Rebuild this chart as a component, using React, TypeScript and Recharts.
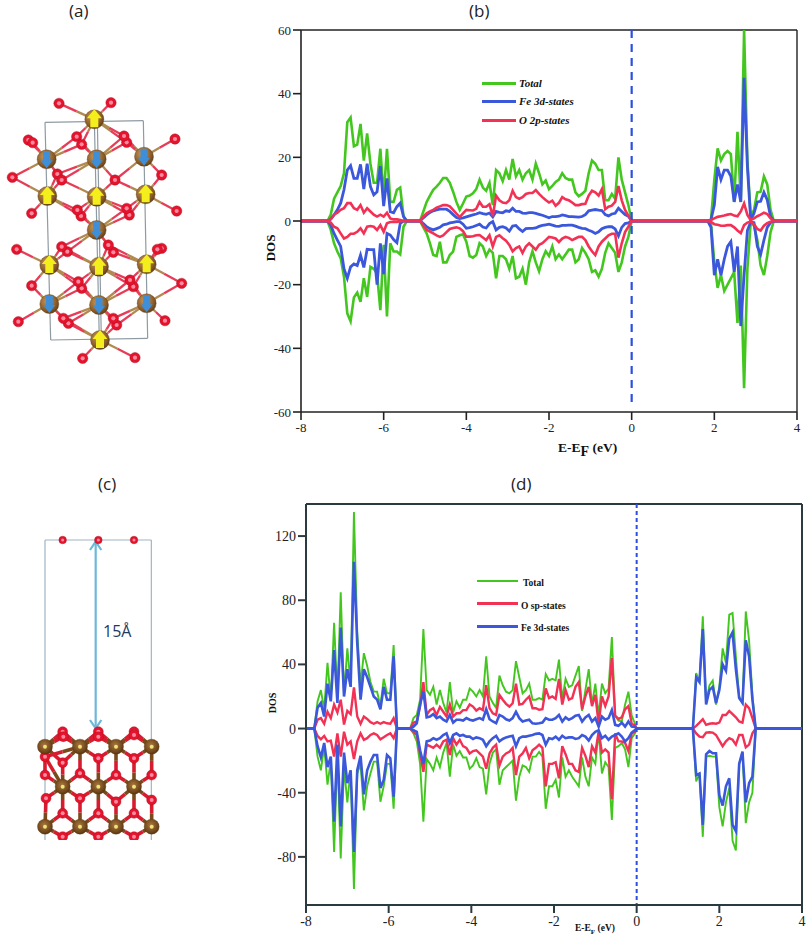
import React from 'react';
import { LineChart, Line, XAxis, YAxis, ReferenceLine, ScatterChart, Scatter } from 'recharts';

const GREEN = '#43c71f';
const BLUE = '#3b57dc';
const RED = '#f23155';

// ---------- panel (b) ----------
const bEnergy = [-8,
  -7.36,-7.28,-7.2,-7.12,-7.04,-6.96,-6.88,-6.8,-6.72,-6.64,-6.56,-6.48,-6.4,-6.32,-6.24,-6.16,-6.08,-6,-5.92,-5.84,-5.76,-5.68,-5.6,-5.52,-5.44,
  -5.12,
  -5.04,-4.96,-4.88,-4.8,-4.72,-4.64,-4.56,-4.48,-4.4,-4.32,
  -4.24,-4.16,-4.08,-4,-3.92,-3.84,-3.76,-3.68,-3.6,-3.52,
  -3.44,-3.36,-3.28,-3.2,-3.12,-3.04,-2.96,-2.88,-2.8,-2.72,
  -2.64,-2.56,-2.48,-2.4,-2.32,-2.24,-2.16,-2.08,-2,-1.92,
  -1.84,-1.76,-1.68,-1.6,-1.52,-1.44,-1.36,-1.28,-1.2,-1.12,
  -1.04,-0.96,-0.88,-0.8,-0.72,-0.64,-0.56,-0.48,-0.4,-0.32,
  -0.24,-0.16,-0.08,0,
  1.84,1.92,2,2.08,2.16,2.24,2.32,2.4,2.48,2.56,2.64,2.72,2.8,2.88,2.96,3.04,3.12,3.2,3.28,3.36,3.44,
  4];
const bTotalUp = [0,
  0,2,7,9,11,15,31,32.5,23.5,24,30.5,19,27.5,18,12,12,22.7,7.7,22.7,6,6,9.8,10.5,1.5,0,
  0,
  3,6,8,9.8,10.8,12,13.5,13.5,12,9.2,
  6,3.5,5.5,7.7,8,8.7,10,13,10.5,9.5,
  12,5,16,15,12.5,16,13,19.5,14,16,
  13,15,16,13,18,15,11.5,12.7,10,11,
  12.3,13,15,13.5,13,13,9,7.8,8.5,9.5,
  15,19,18,16,16,6.5,6.5,8.5,7,20,
  13,9,5,0,
  0,0.5,13,22.8,19,21,22,21,6,28,6,60,19,1.5,3.5,9,9.2,14,11.5,3.5,0,
  0];
const bTotalDn = [0,
  0,-2.8,-7,-9.6,-11.7,-17.5,-29,-31.5,-24,-22.5,-25.4,-18,-23.8,-14.4,-15,-16.5,-28,-7.5,-30,-7,-9.6,-9.6,-10.5,-1.8,0,
  0,
  -2,-3.9,-7,-10.7,-11,-6.5,-13,-13,-10.7,-9.6,
  -5,-4.5,-4.2,-6.5,-11,-11.5,-10.7,-7,-8,-11,
  -9,-10,-18,-11,-11,-12,-15,-11,-18,-17.5,
  -15,-20,-13,-9.5,-13,-15.8,-12,-9.5,-11,-8,
  -12,-10.5,-12,-10.5,-9,-9,-13,-12,-8.5,-10,
  -12,-16,-15.5,-17.5,-15,-10,-7,-8.5,-10,-16,
  -13,-8,-5,0,
  0,-1,-13,-21,-17,-22,-20,-18,-16,-32,-14,-52.5,-15,-0.4,-1.5,-6,-14,-17,-11,-3.5,0,
  0];
const bFeUp = [0,
  0,0.6,1.9,3.5,5.6,9.8,16,17.4,13.4,13.4,17.8,10,18,10.8,8.2,9.2,17.3,4.7,13.4,2.9,2.6,4.5,5.6,1.4,0,
  0,
  1,1.9,2.7,3.2,3.5,3.7,3.7,3.7,3,2,
  1.1,0.8,1,1.3,1.6,1.9,2.2,2.6,2.3,2.1,
  2.5,1.3,3,2.7,2.6,3.2,3,4,3,3,
  2.5,2.4,2.6,2.6,2.4,2.1,1.8,1.4,1,1.4,
  1.4,1.5,1.9,1.7,1.4,1.4,1.3,1.2,1.4,2,
  3.2,3.4,3.6,3.4,3.3,2,1.6,2.2,2.4,4,
  3,2,1.5,0,
  0,0.5,5,17,13,16,16,14,6,11.5,6,45,17,0.3,2.4,6,6.2,9,6.6,1.4,0,
  0];
const bFeDn = [0,
  0,-1.3,-3.9,-6,-8,-15,-18,-14.4,-13.5,-14,-10.7,-14.6,-8.9,-9,-9,-20,-7,-16.7,-3.9,-4.4,-5.8,-6.8,-0.7,0,0,
  0,
  -0.8,-1.8,-2.4,-2.8,-2.4,-2,-1.2,-1,-0.6,-0.4,
  -0.2,-0.2,-1,-2.3,-2.1,-1.8,-1.4,-1,-1.9,-2.2,
  -0.8,-0.2,-2.8,-2,-1.8,-2.2,-3.2,-1.6,-1.4,-2.5,
  -3.3,-2.4,-2.3,-2.3,-2.2,-1.7,-1.4,-1.2,-1,-1.3,
  -1.6,-1.7,-1.4,-1.4,-1.3,-1.3,-1.6,-2,-2.3,-2.4,
  -2.9,-3.3,-3.9,-3.4,-2.4,-2,-1.8,-1.8,-2.5,-4.7,
  -2,-0.8,-0.6,0,
  0,-2,-17,-12,-17,-12,-8,-6.5,-16,-8,-33,-17,-3,-0.3,-0.5,-8,-10.5,-6,-2,-0.5,0,
  0];
const bOUp = [0,
  0,0.6,2,2.6,3.5,4,5.6,5.6,4,3.5,5,2.6,4,3,2,1.4,2,1.4,2.6,0.8,0.5,0.5,0.3,0,0,
  0,
  1.4,2.4,3,3.5,4.2,4.6,5,5,4.6,3.5,
  2.3,1.2,2.4,3.5,3.4,3.3,3.8,6,4.5,4.5,
  5.3,1.5,8,6.5,5.8,5.6,6.5,9.5,7.5,7,
  7.5,8.5,8.8,8.8,9.7,8.5,7.5,6.6,5.8,6.4,
  4.8,5.7,7.5,6.8,6.5,5.8,5,5,5.3,5.4,
  8,9.5,9,8,10,3.7,4.5,4.8,6,11,
  6.5,3.5,1.6,0,
  0,0.3,0.8,1.3,1.5,1.7,2,2.2,1.7,1.5,3,5.5,1.9,0.3,0.8,1.5,2,2.6,2.2,0.8,0,
  0];
const bODn = [0,
  0,-0.5,-1.8,-2.3,-3.9,-5.5,-5,-4,-4,-3.4,-2.3,-3.9,-1.8,-1.6,-1.8,-2.8,-1.3,-3.4,-0.7,-0.3,-0.3,-0.3,-0.1,0,0,
  0,
  -1.4,-2.8,-3.3,-3.9,-4.5,-5,-4.5,-3.5,-2.5,-2.2,
  -2,-2.3,-3.2,-4.9,-4.9,-4.8,-4.5,-4.4,-5.2,-6,
  -4.5,-8,-5,-4.5,-5.4,-6.2,-7.5,-9.5,-8.5,-8,
  -10,-8,-7,-8,-9,-7.5,-7,-6,-5,-5.2,
  -5.5,-6.6,-5.5,-5,-5.3,-6,-5.5,-5,-5,-6,
  -8,-9.5,-10.7,-8,-6.5,-5.5,-4.5,-4,-4,-11.5,
  -7,-3.5,-1.8,0,
  0,-0.3,-1,-1.2,-1.5,-1.5,-1.3,-1.3,-2,-3,-3.8,-1.3,-0.5,-0.2,-1,-2.5,-3,-1.5,-0.7,-0.2,0,
  0];

// ---------- panel (d) ----------
const dEnergy = [-8,
  -7.8,-7.72,-7.64,-7.56,-7.48,-7.4,-7.32,-7.24,-7.16,-7.08,-7,-6.92,-6.84,-6.76,-6.68,-6.6,-6.52,-6.44,-6.36,-6.28,-6.2,-6.12,-6.04,-5.96,-5.88,-5.8,
  -5.48,-5.4,-5.32,-5.24,-5.16,-5.08,-5,-4.92,-4.84,-4.76,
  -4.68,-4.6,-4.52,-4.44,-4.36,-4.28,-4.2,-4.12,-4.04,-3.96,
  -3.88,-3.8,-3.72,-3.64,-3.56,-3.48,-3.4,-3.32,-3.24,-3.16,
  -3.08,-3,-2.92,-2.84,-2.76,-2.68,-2.6,-2.52,-2.44,-2.36,
  -2.28,-2.2,-2.12,
  -2.04,-1.96,-1.88,-1.8,-1.72,-1.64,-1.56,-1.48,-1.4,-1.32,
  -1.24,-1.16,-1.08,-1,-0.92,-0.84,-0.76,-0.68,-0.6,-0.52,
  -0.44,-0.36,-0.28,-0.2,-0.12,-0.04,
  0,
  1.36,1.44,1.52,1.6,1.68,1.76,1.84,1.92,2,2.08,2.16,2.24,2.32,2.4,2.48,2.56,2.64,2.72,2.8,2.88,
  4];
const dTotalUp = [0,
  0,17,24,12,41,18,66,20,85,21,50,28,135,60,27,47,39,29,23,23,14,31,22,22,52,0,
  0,6.5,8.5,18,62,24,21,26,15,24,
  16,10,29,10,17,13,18,18,25,23,
  20,24,20,45,20,16,13,33,27,23,
  22,24,42,32,22,24,28,18,18,19,
  18,34,30,
  31,30,43,18,31,26,27,33,39,11,
  24,37,15,28,8,28,22,25,57,8,
  5,4.5,15,23,8,3,
  0,
  0,34.6,29,70,16,27,30,15,26,50,41,71,72,45,20,16,73,55,21,0,
  0];
const dTotalDn = [0,
  0,-17.5,-26,-11,-35,-20,-77,-15,-81,-24,-46,-26,-100,-28,-22,-51,-36,-28,-20.6,-20.6,-45.6,-36,-22,-22,-50,0,
  0,-3,-8,-22,-58,-19,-22,-26,-18,-24,
  -15,-9,-30,-10,-17,-14,-18,-18,-25,-23,
  -18.5,-24,-25,-41,-22,-15,-13,-35,-26,-24,
  -22,-20,-45,-30,-23,-24,-27,-17.5,-17.5,-14.5,
  -17.5,-50,-36,
  -36,-32,-43,-18,-30,-26,-30,-33,-36,-18,
  -30,-36,-18,-22,-2,-28,-21,-24,-57,-12,
  -11,-9,-13,-24,-6,-3,
  0,
  0,-33,-28,-67.5,-17.5,-17,-17.5,-17.5,-49,-61,-46,-37,-70,-76,-22,-15,-59,-46,-40,0,
  0];
const dOUp = [0,
  0,5.5,6.5,3,10.5,6.5,15,10,18,2.5,11,9,25.6,7.5,3,7.5,6,4,3,4,3,4,3.3,3,6.5,0,
  0,3.7,4.4,14,29,8.5,11.5,12.7,8.5,13.5,
  10.5,7.5,15,7.5,9.5,9.5,11.5,11.5,15,13.7,
  11.2,12.7,11.5,27,12.7,9.5,8.5,21,18,15.4,
  13.7,15.8,28,15,15.4,18,20,12.7,12.7,11.7,
  12,25,19,
  20,18.5,31,15,24,18,19,26,29,12,
  20,26,14,21,3,20,14,20,44,8,
  6,7,12,14,3,2,
  0,
  0,1.7,3.7,5.8,2.3,3,3.3,3,3.7,8.5,8.5,11,9,7,4.4,3.7,15,12.7,6.5,0,
  0];
const dODn = [0,
  0,-4.6,-6.7,-4.6,-8,-7.5,-17.5,-3,-17.5,-2,-10,-8,-19,-8,-3,-7,-6,-4,-3,-4,-6.7,-5.4,-4,-3,-6,0,
  0,-2,-4,-15.5,-27,-10,-11,-12,-10,-12,
  -8,-7,-16.5,-6,-10,-7,-11,-12,-15.5,-14,
  -13.5,-15.5,-17.5,-25,-15.5,-12,-10,-23,-17.5,-15.5,
  -14.5,-12,-29,-17.5,-15.5,-12,-18.5,-13.5,-12,-10,
  -12,-36,-22,
  -22,-21,-31,-11,-16,-22,-22,-26,-27,-12,
  -17,-24,-11,-15,-2,-15,-13,-15,-44,-3,
  -8,-8,-9,-14,-3,-2,
  0,
  0,-3,-5,-5.4,-2.5,-2.3,-2.5,-4,-7.5,-11,-8,-6,-7,-10,-4,-4,-11.7,-10,-3,0,
  0];
const dFeUp = [0,
  0,13,16,7.5,28,17,49,16,63,20,37,26,104,53,18,37,32,26,20,18,12,26,18,18,45,0,
  0,1.2,3.3,15,23,7,7.5,9,6.5,7.5,
  5.5,4.4,8.5,3.7,5.5,5.5,5,6.5,5.5,5,
  5.8,6.5,5.5,12,5.8,4.4,3.3,8.5,7.5,5.8,
  5,6.5,10.5,6.5,4.4,5,5.5,3.3,3,3.3,
  3.7,6.5,5.5,
  5.5,6.5,8.5,4.4,7,5.5,6.5,8,8.5,4.4,
  7,8.5,4.4,6.5,1.2,7.5,5.5,6.5,11.5,2.3,
  1.7,3.7,1.2,4.4,1.2,1,
  0,
  0,32,29,62,15,24,26,16,24,40,36,56,60,37,19,16,55,45,18,0,
  0];
const dFeDn = [0,
  0,-11,-18,-9,-24,-17.5,-58,-10,-61,-15,-34,-26,-77,-26,-17,-41,-26,-20.6,-16.5,-16.5,-37,-32,-16.5,-18.5,-42.5,0,
  0,-1,-2,-13.5,-22,-8,-7.5,-6,-7,-6,
  -4,-3,-9,-4,-3,-4.5,-4,-5,-5,-6.5,
  -5.5,-6,-7,-11,-8,-6,-4.5,-8,-6.5,-5.5,
  -5,-4.5,-11,-6,-5,-5,-4.5,-4,-3.3,-3,
  -4,-10,-6,
  -6.5,-5,-7,-4.5,-6,-5.5,-5.5,-6.5,-6,-4,
  -5,-7.5,-4,-2,-1,-6,-4.5,-7,-5,-4,
  -3,-5,-8,-6,-2.5,-1,
  0,
  0,-29,-28,-60,-16,-14,-15.4,-15.4,-41.5,-48,-36,-31,-60,-64,-22,-14.4,-46,-34,-30,0,
  0];

const xTicks = [-8, -6, -4, -2, 0, 2, 4];
const bYTicks = [-60, -40, -20, 0, 20, 40, 60];
const dYTicks = [-80, -40, 0, 40, 80, 120];
const bLegend = [['Total', GREEN], ['Fe 3d-states', BLUE], ['O 2p-states', RED]];
const dLegend = [['Total', GREEN], ['O sp-states', RED], ['Fe 3d-states', BLUE]];

// ---------- panel (a) structure, picture coordinates ----------
const aSpinUp = [[283,358],[142,588],[290,590],[437,583],[148,795],[297,800],[440,793],[300,1020]];
const aSpinDown = [[140,478],[290,478],[432,470],[290,690],[148,912],[297,915],[440,910]];
const aOxygen = [[177,310],[333,308],[85,420],[98,428],[230,410],[245,433],[380,427],[372,408],[525,417],[37,532],[172,522],[185,540],[345,540],[485,525],[95,640],[243,648],[232,630],[388,645],[380,625],[530,633],[50,748],[202,755],[185,740],[340,757],[325,735],[485,745],[472,748],[95,857],[245,865],[235,845],[400,860],[390,840],[545,850],[55,965],[205,970],[190,955],[350,975],[340,955],[495,962],[248,1075],[405,1073]];
const aBox = [[[135,367],[430,362]],[[430,362],[443,1015]],[[443,1015],[152,1020]],[[152,1020],[135,367]],[[283,360],[298,1020]],[[292,360],[304,1020]]];

// ---------- panel (c) structure, picture coordinates ----------
const cIron = [[45,830],[150,830],[258,830],[365,830],[98,950],[205,950],[312,950],[45,1070],[150,1070],[258,1070],[365,1070]];
const cOxygen = [[98,785],[205,785],[312,785],[100,800],[205,800],[312,795],[45,860],[98,878],[205,865],[312,865],[45,915],[150,910],[258,915],[365,915],[48,985],[150,985],[258,995],[365,990],[98,1030],[205,1030],[312,1030],[98,1100],[205,1100],[312,1100]];
const cTopOxygen = [[98,210],[205,210],[312,210]];
const cBox = [[[45,210],[364,210]],[[364,210],[364,1110]],[[45,210],[45,1110]]];
const cArrow = [[[197,218],[197,772]],[[197,215],[180,240]],[[197,215],[214,240]],[[197,775],[180,750]],[[197,775],[214,750]]];

const pts = (a: number[][]) => a.map(([x, y]) => ({ x, y }));

function bonds(metal: number[][], ox: number[][], radius: number) {
  const out: { a: number[]; m: number[]; b: number[] }[] = [];
  metal.forEach((m) => ox.forEach((o) => {
    if (Math.hypot(m[0] - o[0], m[1] - o[1]) < radius) {
      out.push({ a: m, m: [(m[0] + o[0]) / 2, (m[1] + o[1]) / 2], b: o });
    }
  }));
  return out;
}

function DosChart(p: any) {
  const data = p.energy.map((e: number, i: number) => ({
    e, tu: p.tu[i], td: p.td[i], fu: p.fu[i], fd: p.fd[i], ou: p.ou[i], od: p.od[i],
  }));
  const ln = (k: string, c: string, w: number) => (
    <Line key={k} dataKey={k} stroke={c} strokeWidth={w} dot={false} isAnimationActive={false} type="linear" strokeLinejoin="miter" />
  );
  const tick = { fontFamily: 'Liberation Serif', fontSize: p.tickSize, fill: '#222' };
  return (
    <LineChart width={p.width} height={p.height} data={data} margin={p.margin}>
      <XAxis dataKey="e" type="number" domain={[-8, 4]} ticks={xTicks} interval={0} tick={tick} tickSize={8} tickMargin={3} height={p.xh} stroke={p.axis} strokeWidth={p.axisW} allowDataOverflow />
      <YAxis type="number" domain={p.ydomain} ticks={p.yticks} interval={0} tick={tick} tickSize={8} tickMargin={2} width={p.yw} stroke={p.axis} strokeWidth={p.axisW} allowDataOverflow />
      <ReferenceLine y={p.ydomain[1]} stroke={p.axis} strokeWidth={p.frameW} />
      <ReferenceLine x={4} stroke={p.axis} strokeWidth={p.frameW} />
      {p.order.map(([k, c, w]: any) => ln(k, c, w))}
      <ReferenceLine segment={[{ x: 0, y: p.ydomain[1] }, { x: 0, y: p.dashEnd }]} stroke="#2b4fe0" strokeWidth={p.dashW} strokeDasharray={p.dash} />
    </LineChart>
  );
}

function Fe(p: any) {
  return (
    <g>
      <circle cx={p.cx} cy={p.cy} r={p.r} fill={p.kind === 'dot' ? 'url(#feDark)' : 'url(#feGrad)'} stroke="#5a3a18" strokeWidth={0.4} />
      {p.kind === 'up' && <polygon points={`${p.cx},${p.cy - 10} ${p.cx + 7.5},${p.cy - 1} ${p.cx + 4},${p.cy - 1} ${p.cx + 4},${p.cy + 8} ${p.cx - 4},${p.cy + 8} ${p.cx - 4},${p.cy - 1} ${p.cx - 7.5},${p.cy - 1}`} fill="#f4ef1c" />}
      {p.kind === 'down' && <polygon points={`${p.cx},${p.cy + 9} ${p.cx + 6},${p.cy + 1} ${p.cx + 3.5},${p.cy + 1} ${p.cx + 3.5},${p.cy - 8} ${p.cx - 3.5},${p.cy - 8} ${p.cx - 3.5},${p.cy + 1} ${p.cx - 6},${p.cy + 1}`} fill="#3f8fd8" />}
      {p.kind === 'dot' && <circle cx={p.cx} cy={p.cy} r={2} fill="#eee27a" />}
    </g>
  );
}
const Ox = (p: any) => (
  <g>
    <circle cx={p.cx} cy={p.cy} r={p.r} fill="#e3142c" stroke="#a01020" strokeWidth={0.4} />
    <circle cx={p.cx} cy={p.cy} r={p.r * 0.4} fill="#ff8aa0" />
  </g>
);

function Structure(p: any) {
  const hb = p.bonds;
  const axes = [
    <XAxis key="x" type="number" dataKey="x" domain={[0, p.zw]} hide />,
    <YAxis key="y" type="number" dataKey="y" domain={[0, p.zh]} reversed hide />,
  ];
  return (
    <ScatterChart width={p.width} height={p.height} margin={{ top: 0, right: 0, bottom: 0, left: 0 }}>
      <defs>
        <radialGradient id="feGrad" cx="40%" cy="35%" r="70%">
          <stop offset="0%" stopColor="#c99a5e" />
          <stop offset="70%" stopColor="#8a5a26" />
          <stop offset="100%" stopColor="#5a3a18" />
        </radialGradient>
        <radialGradient id="feDark" cx="45%" cy="40%" r="65%">
          <stop offset="0%" stopColor="#a8773e" />
          <stop offset="75%" stopColor="#6d4318" />
          <stop offset="100%" stopColor="#4a2c10" />
        </radialGradient>
      </defs>
      {axes}
      {p.lines.map((l: number[][], i: number) => (
        <ReferenceLine key={'l' + i} segment={[{ x: l[0][0], y: l[0][1] }, { x: l[1][0], y: l[1][1] }]} stroke={p.lineColor} strokeWidth={1.2} />
      ))}
      {hb.map((b: any, i: number) => (
        <ReferenceLine key={'b' + i} segment={[{ x: b.a[0], y: b.a[1] }, { x: b.m[0], y: b.m[1] }]} stroke={p.metalBond} strokeWidth={p.bondW} />
      ))}
      {hb.map((b: any, i: number) => (
        <ReferenceLine key={'c' + i} segment={[{ x: b.m[0], y: b.m[1] }, { x: b.b[0], y: b.b[1] }]} stroke={p.oxBond} strokeWidth={p.bondW} />
      ))}
      {p.series.map((s: any, i: number) => (
        <Scatter key={i} data={pts(s.data)} isAnimationActive={false} shape={(q: any) => s.type === 'fe'
          ? <Fe cx={q.cx} cy={q.cy} r={s.r} kind={s.kind} />
          : <Ox cx={q.cx} cy={q.cy} r={s.r} />} />
      ))}
      {p.over && p.over.map((l: number[][], i: number) => (
        <ReferenceLine key={'o' + i} segment={[{ x: l[0][0], y: l[0][1] }, { x: l[1][0], y: l[1][1] }]} stroke="#6bb8d8" strokeWidth={2.2} />
      ))}
    </ScatterChart>
  );
}

const abs = (left: number, top: number, extra: any = {}) => ({ position: 'absolute' as const, left, top, ...extra });
const panelLabel = { fontFamily: 'Open Sans', fontSize: 17, color: '#222', lineHeight: '22px' };
const serifBold = { fontFamily: 'Liberation Serif', fontWeight: 'bold', color: '#111', whiteSpace: 'nowrap' as const };

export default function App() {
  const aFe = [...aSpinUp, ...aSpinDown];
  return (
    <div style={{ position: 'absolute', left: 0, top: 0, width: 809, height: 939, background: '#fff', overflow: 'hidden' }}>
      <div style={abs(0, 0)}>
        <Structure width={200} height={370} zw={600} zh={1110} lines={aBox} lineColor="#8f9ba3" bonds={bonds(aFe, aOxygen, 135)} metalBond="#b08a50" oxBond="#e63c58" bondW={2.3}
          series={[
            { type: 'o', r: 5.2, data: aOxygen },
            { type: 'fe', r: 9.5, kind: 'up', data: aSpinUp },
            { type: 'fe', r: 9.5, kind: 'down', data: aSpinDown },
          ]} />
      </div>
      <div style={abs(30, 470)}>
        <Structure width={130} height={370} zw={390} zh={1110} lines={cBox} lineColor="#9fb4c4" bonds={bonds(cIron, cOxygen, 110)} metalBond="#7a4a1c" oxBond="#d81c30" bondW={3.6}
          over={cArrow}
          series={[
            { type: 'o', r: 3.8, data: cTopOxygen },
            { type: 'o', r: 5, data: cOxygen },
            { type: 'fe', r: 7.5, kind: 'dot', data: cIron },
          ]} />
      </div>
      <div style={abs(250, 15)}>
        <DosChart width={559} height={445} margin={{ top: 15, right: 12, bottom: 15, left: 0 }} xh={33} yw={51} tickSize={13} axis="#222" axisW={1.6} frameW={1.4}
          energy={bEnergy} tu={bTotalUp} td={bTotalDn} fu={bFeUp} fd={bFeDn} ou={bOUp} od={bODn}
          ydomain={[-60, 60]} yticks={bYTicks} dashEnd={-58} dash="8 6" dashW={2.2}
          order={[['tu', GREEN, 2.6], ['td', GREEN, 2.6], ['fu', BLUE, 2.8], ['fd', BLUE, 2.8], ['ou', RED, 2.6], ['od', RED, 2.6]]} />
      </div>
      <div style={abs(250, 490)}>
        <DosChart width={559} height={449} margin={{ top: 14, right: 7, bottom: 4, left: 0 }} xh={30} yw={56} tickSize={14} axis="#2a3a40" axisW={2} frameW={2}
          energy={dEnergy} tu={dTotalUp} td={dTotalDn} fu={dFeUp} fd={dFeDn} ou={dOUp} od={dODn}
          ydomain={[-110, 140]} yticks={dYTicks} dashEnd={-110} dash="4 3" dashW={2}
          order={[['tu', GREEN, 1.9], ['td', GREEN, 1.9], ['ou', RED, 2.4], ['od', RED, 2.4], ['fu', BLUE, 2.6], ['fd', BLUE, 2.6]]} />
      </div>

      <div style={abs(69, 0, panelLabel)}>(a)</div>
      <div style={abs(469, 0, panelLabel)}>(b)</div>
      <div style={abs(98, 473, panelLabel)}>(c)</div>
      <div style={abs(511, 473, panelLabel)}>(d)</div>
      <div style={abs(103, 621, { fontFamily: 'Open Sans', fontSize: 16, color: '#1f3a5f', lineHeight: '20px' })}>15Å</div>

      {bLegend.map(([t, c], i) => (
        <React.Fragment key={t}>
          <div style={abs(482, 82 + i * 18.3, { width: 34, height: 3, background: c })} />
          <div style={abs(519, 76 + i * 18.3, { ...serifBold, fontStyle: 'italic', fontSize: 11, lineHeight: '15px' })}>{t}</div>
        </React.Fragment>
      ))}
      {dLegend.map(([t, c], i) => (
        <React.Fragment key={t}>
          <div style={abs(477, 579.5 + i * 22.5, { width: 41, height: i === 0 ? 2 : 3, background: c })} />
          <div style={abs(i === 0 ? 523 : 521, 577 + i * 22.5, { ...serifBold, fontSize: 9.5, lineHeight: '13px' })}>{t}</div>
        </React.Fragment>
      ))}

      <div style={abs(271, 248, { ...serifBold, fontSize: 13, transform: 'translate(-50%,-50%) rotate(-90deg)' })}>DOS</div>
      <div style={abs(272, 703, { ...serifBold, fontSize: 10, transform: 'translate(-50%,-50%) rotate(-90deg)' })}>DOS</div>
      <div style={abs(558, 440, { ...serifBold, fontSize: 13.5, lineHeight: '15px' })}>E-E<sub style={{ fontSize: 14, lineHeight: 0 }}>F</sub> (eV)</div>
      <div style={abs(575, 923, { ...serifBold, fontSize: 9.5, lineHeight: '11px' })}>E-E<sub style={{ fontSize: 7, lineHeight: 0 }}>F</sub> (eV)</div>
    </div>
  );
}
